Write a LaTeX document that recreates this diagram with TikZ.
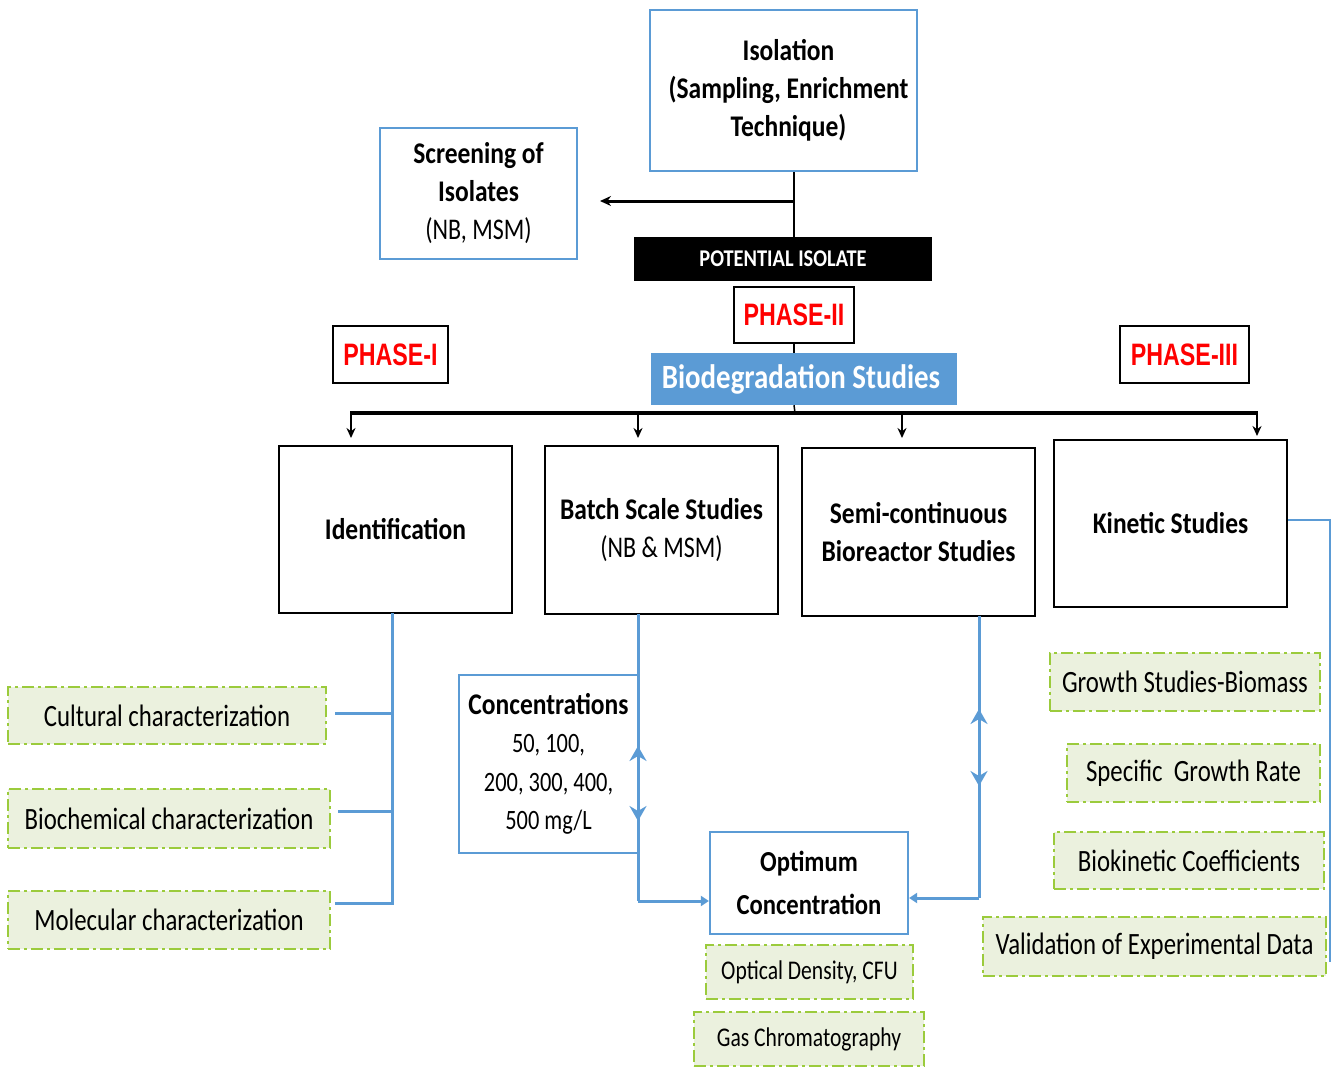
\documentclass[tikz,border=0pt]{standalone}
\usepackage{fontspec}
\setmainfont{Carlito}
\newfontfamily\bcond[FakeStretch=0.85]{Carlito}
\newfontfamily\rcond[FakeStretch=0.8]{Carlito}
\newfontfamily\phfont[FakeStretch=0.75]{Liberation Sans}
\usetikzlibrary{arrows.meta}
\definecolor{myblue}{HTML}{5B9BD5}
\definecolor{mygreen}{HTML}{9BCB3C}
\definecolor{mylgreen}{HTML}{EBF1DE}
\definecolor{phred}{HTML}{FF0000}
\begin{document}
\begin{tikzpicture}[x=1pt,y=-1pt,
  blbox/.style={draw=myblue, line width=2.2pt, fill=white, inner sep=0pt, align=center},
  bkbox/.style={draw=black, line width=2.6pt, fill=white, inner sep=0pt, align=center,
     font={\bcond\bfseries\fontsize{30}{38}\selectfont}},
  phbox/.style={draw=black, line width=2pt, fill=white, inner sep=0pt, align=center, text=phred,
     font={\phfont\bfseries\fontsize{31}{36}\selectfont}},
  gbox/.style={draw=mygreen, fill=mylgreen, line width=2.5pt, dash pattern=on 12pt off 4pt on 3pt off 4pt,
     inner sep=0pt, align=center, font={\rcond\fontsize{31}{36}\selectfont}},
  blk/.style={draw=black, line width=2.5pt},
  bll/.style={draw=myblue, line width=3pt},
  dtip/.style={-{Stealth[length=15pt,width=17pt,inset=5pt]}},
  ttip/.style={-{Triangle[length=8pt,width=10pt]}}
]
\useasboundingbox[fill=white] (0,0) rectangle (1340,1068);

% top part
\node[blbox, minimum width=267pt, minimum height=161pt, font={\bcond\bfseries\fontsize{30}{38}\selectfont}] (iso) at (783.5,90.5) {\hspace*{10pt}Isolation\\\hspace*{10pt}(Sampling, Enrichment\\\hspace*{10pt}Technique)};
\node[blbox, minimum width=197pt, minimum height=131pt, font={\bcond\bfseries\fontsize{30}{38}\selectfont}] (scr) at (478.5,193.5) {Screening of\\Isolates\\{\rcond\mdseries (NB, MSM)}};
\node[fill=black, minimum width=298pt, minimum height=44pt, inner sep=0pt, text=white, font={\bcond\bfseries\fontsize{24}{28}\selectfont}] (pot) at (783,259) {POTENTIAL ISOLATE};
\node[phbox, minimum width=120pt, minimum height=56pt] (ph2) at (794,315) {PHASE-II};
\node[fill=myblue, minimum width=306pt, minimum height=52pt, inner sep=0pt, text=white, font={\bcond\bfseries\fontsize{34}{40}\selectfont}] (bio) at (804,379) {Biodegradation Studies\hspace*{6pt}};
\node[phbox, minimum width=115pt, minimum height=57pt] (ph1) at (390.5,354.5) {PHASE-I};
\node[phbox, minimum width=129pt, minimum height=57pt] (ph3) at (1184.5,354.5) {PHASE-III};

% main boxes
\node[bkbox, minimum width=233pt, minimum height=167pt] (idn) at (395.5,529.5) {Identification};
\node[bkbox, minimum width=233pt, minimum height=168pt] (bat) at (661.5,530) {Batch Scale Studies\\{\rcond\mdseries (NB \& MSM)}};
\node[bkbox, minimum width=233pt, minimum height=168pt] (semi) at (918.5,532) {Semi-continuous\\Bioreactor Studies};
\node[bkbox, minimum width=233pt, minimum height=167pt] (kin) at (1170.5,523.5) {Kinetic Studies};

% middle boxes
\node[blbox, minimum width=179pt, minimum height=178pt, font={\rcond\fontsize{28}{38.5}\selectfont}] (conc) at (548.5,764) {{\bcond\bfseries\fontsize{30}{38}\selectfont Concentrations}\\50, 100,\\200, 300, 400,\\500 mg/L};
\node[blbox, minimum width=198pt, minimum height=102pt, font={\bcond\bfseries\fontsize{29}{43}\selectfont}] (opt) at (809,883) {Optimum\\Concentration};
\node[gbox, minimum width=207pt, minimum height=54pt, font={\rcond\fontsize{27}{32}\selectfont}] (od) at (809.5,972) {Optical Density, CFU};
\node[gbox, minimum width=230pt, minimum height=54pt, font={\rcond\fontsize{27}{32}\selectfont}] (gc) at (809,1039) {Gas Chromatography};

% left green boxes
\node[gbox, minimum width=318pt, minimum height=57pt] (cul) at (167,715.5) {Cultural characterization};
\node[gbox, minimum width=322pt, minimum height=59pt] (bioc) at (169,818.5) {Biochemical characterization};
\node[gbox, minimum width=322pt, minimum height=58pt] (mol) at (169,920) {Molecular characterization};

% right green boxes
\node[gbox, minimum width=270pt, minimum height=58pt] (gro) at (1185,682) {Growth Studies-Biomass};
\node[gbox, minimum width=253pt, minimum height=58pt] (spe) at (1193.5,773) {Specific\ \ Growth Rate};
\node[gbox, minimum width=270pt, minimum height=57pt] (bkc) at (1189,860.5) {Biokinetic Coefficients};
\node[gbox, minimum width=343pt, minimum height=59pt] (val) at (1154.5,946.5) {Validation of Experimental Data};

% coordinates
\coordinate (j1) at (794,201);
\coordinate (scrA) at (600,201);
\coordinate (barL) at (350,413);
\coordinate (barR) at (1258,413);
\coordinate (barM) at (795,413);
\coordinate (a1s) at (351,413); \coordinate (a1e) at (351,438);
\coordinate (a2s) at (638,413); \coordinate (a2e) at (638,438);
\coordinate (a3s) at (902,413); \coordinate (a3e) at (902,438);
\coordinate (a4s) at (1257,413); \coordinate (a4e) at (1257,436);

% black connectors
\draw[blk] ([xshift=10.5pt]iso.south) -- ([xshift=11pt]pot.north);
\draw[blk, line width=3pt, -{Stealth[length=11pt,width=10pt]}] (j1) -- (scrA);
\draw[blk, line width=1.5pt] (ph2.south) -- (ph2.south |- bio.north);
\draw[blk, line width=1.5pt] (ph2.south |- bio.south) -- (barM);
\draw[blk, line width=4.5pt] (barL) -- (barR);
\foreach \s/\e in {a1s/a1e,a2s/a2e,a3s/a3e,a4s/a4e}
  \draw[blk, line width=1.8pt, -{Stealth[length=10pt,width=9pt]}] (\s) -- (\e);

% identification branches
\coordinate (it) at (392,613);
\coordinate (ib) at (392,905);
\coordinate (c1) at (335,713);
\coordinate (c2) at (338,811);
\coordinate (c3) at (335,903);
\draw[bll] (it) -- (ib);
\draw[bll] (c1) -- (c1 -| ib);
\draw[bll] (c2) -- (c2 -| ib);
\draw[bll] (c3) -- (c3 -| ib);

% batch branch
\coordinate (bt) at (638,614);
\coordinate (bm) at (638,783);
\coordinate (bu) at (638,746);
\coordinate (bd) at (638,821);
\coordinate (bb) at (638,901);
\draw[bll] (bt) -- (bb);
\draw[bll, ttip] (bb) -- ([yshift=-18pt]opt.west);
\draw[bll, dtip] (bm) -- (bu);
\draw[bll, dtip] (bm) -- (bd);

% semi-continuous branch
\coordinate (st) at (979,616);
\coordinate (sm) at (979,748);
\coordinate (su) at (979,709);
\coordinate (sd) at (979,786);
\coordinate (sb) at (979,898);
\draw[bll] (st) -- (sb);
\draw[bll, ttip] (sb) -- ([yshift=-15pt]opt.east);
\draw[bll, dtip] (sm) -- (su);
\draw[bll, dtip] (sm) -- (sd);

% kinetic branch
\coordinate (kr) at (1330,520);
\coordinate (kb) at (1330,962);
\draw[bll, line width=2.5pt] ([yshift=3.5pt]kin.east) -- (kr) -- (kb);
\end{tikzpicture}
\end{document}
